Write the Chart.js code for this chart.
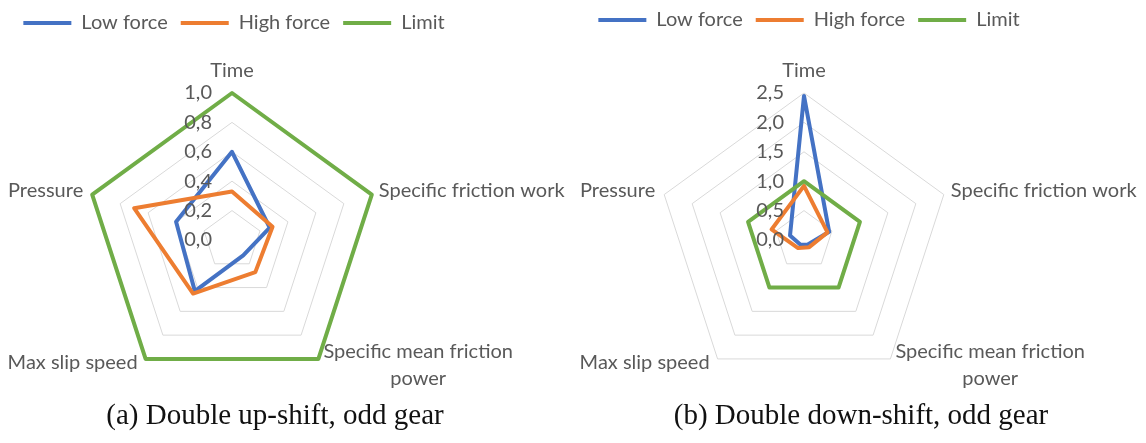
<!DOCTYPE html>
<html>
<head>
<meta charset="utf-8">
<script src="https://cdn.jsdelivr.net/npm/chart.js@4.4.1/dist/chart.umd.min.js"></script>
<style>
  html, body { margin: 0; padding: 0; background: #ffffff; }
  #wrap { position: relative; width: 1146px; height: 443px; overflow: hidden; background: #fff; }
  canvas { position: absolute; top: 0; }
  .cap { position: absolute; top: 398px; font-family: "Liberation Serif", "DejaVu Serif", serif; font-size: 29px; color: #111; white-space: nowrap; transform: translateX(-50%); }
</style>
</head>
<body>
<div id="wrap">
  <canvas id="ca" width="573" height="443" style="left:0px"></canvas>
  <canvas id="cb" width="573" height="443" style="left:573px"></canvas>
  <div class="cap" style="left:275px">(a) Double up-shift, odd gear</div>
  <div class="cap" style="left:861px">(b) Double down-shift, odd gear</div>
</div>
<script>
// ---- data ----
const categories = ['Time', 'Specific friction work', ['Specific mean friction', 'power'], 'Max slip speed', 'Pressure'];
const seriesNames = ['Low force', 'High force', 'Limit'];

const upLow   = [0.60, 0.27, 0.13, 0.43, 0.40];
const upHigh  = [0.33, 0.29, 0.27, 0.45, 0.70];
const upLimit = [1.0, 1.0, 1.0, 1.0, 1.0];
const upTicks = { min: 0, max: 1.0, step: 0.2 };

const downLow   = [2.45, 0.45, 0.10, 0.10, 0.25];
const downHigh  = [0.92, 0.42, 0.15, 0.17, 0.58];
const downLimit = [1.0, 1.0, 1.0, 1.0, 1.0];
const downTicks = { min: 0, max: 2.5, step: 0.5 };

// ---- styling ----
const COLORS = ['#4472C4', '#ED7D31', '#70AD47'];
const TEXT = '#595959';
const FONT = 'Lato, "Open Sans", sans-serif';
const FS = 20;

const textPlugin = {
  id: 'radarText',
  afterDatasetsDraw(chart) {
    const s = chart.scales.r;
    const ctx = chart.ctx;
    ctx.save();
    ctx.fillStyle = TEXT;
    ctx.font = FS + 'px ' + FONT;
    // tick labels, to the left of the vertical axis
    ctx.textAlign = 'right';
    ctx.textBaseline = 'middle';
    s.ticks.forEach(t => {
      const d = s.getDistanceFromCenterForValue(t.value);
      ctx.fillText(t.label, s.xCenter - 20, s.yCenter - d);
    });
    // category labels
    const R = s.drawingArea;
    chart.data.labels.forEach((lab, i) => {
      const p = s.getPointPosition(i, R);
      const lines = Array.isArray(lab) ? lab : [lab];
      if (i === 0) {
        ctx.textAlign = 'center';
        ctx.fillText(lines[0], p.x, p.y - 22);
      } else if (i === 1) {
        ctx.textAlign = 'left';
        ctx.fillText(lines[0], p.x + 7, p.y - 4);
      } else if (i === 2) {
        const w = Math.max(...lines.map(l => ctx.measureText(l).width));
        ctx.textAlign = 'center';
        lines.forEach((l, k) => ctx.fillText(l, p.x + 5 + w / 2, p.y - 7 + k * 27));
      } else if (i === 3) {
        ctx.textAlign = 'right';
        ctx.fillText(lines[0], p.x - 8, p.y + 4);
      } else {
        ctx.textAlign = 'right';
        ctx.fillText(lines[0], p.x - 9, p.y - 4);
      }
    });
    ctx.restore();
  }
};

function makeChart(id, series, tk, cx, cy, rad, legendPadRight, legendTop) {
  const datasets = series.map((vals, k) => ({
    label: seriesNames[k],
    data: vals,
    borderColor: COLORS[k],
    backgroundColor: COLORS[k],
    borderWidth: 4,
    pointRadius: 0,
    pointHoverRadius: 0,
    fill: false,
    tension: 0,
    borderJoinStyle: 'round',
    borderCapStyle: 'round',
    order: 2 - k
  }));
  return new Chart(document.getElementById(id), {
    type: 'radar',
    data: { labels: categories, datasets },
    plugins: [textPlugin],
    options: {
      responsive: false,
      animation: false,
      devicePixelRatio: 1,
      layout: { padding: { top: legendTop, right: legendPadRight, left: 0, bottom: 0 } },
      plugins: {
        tooltip: { enabled: false },
        legend: {
          position: 'top',
          align: 'center',
          labels: {
            usePointStyle: true,
            pointStyle: 'line',
            pointStyleWidth: 48,
            color: TEXT,
            font: { family: FONT, size: FS },
            padding: 13,
            sort: (a, b) => a.datasetIndex - b.datasetIndex
          }
        }
      },
      scales: {
        r: {
          min: tk.min,
          max: tk.max,
          ticks: {
            stepSize: tk.step,
            display: false,
            callback: v => v.toFixed(1).replace('.', ',')
          },
          grid: { color: '#D9D9D9', lineWidth: 1 },
          angleLines: { display: false },
          pointLabels: { display: false },
          afterFit: (s) => { s.xCenter = cx; s.yCenter = cy; s.drawingArea = rad; }
        }
      }
    }
  });
}

makeChart('ca', [upLow, upHigh, upLimit], upTicks, 232, 240, 147, 105, 0);
makeChart('cb', [downLow, downHigh, downLimit], downTicks, 231, 240, 147, 101, -3);
</script>
</body>
</html>
